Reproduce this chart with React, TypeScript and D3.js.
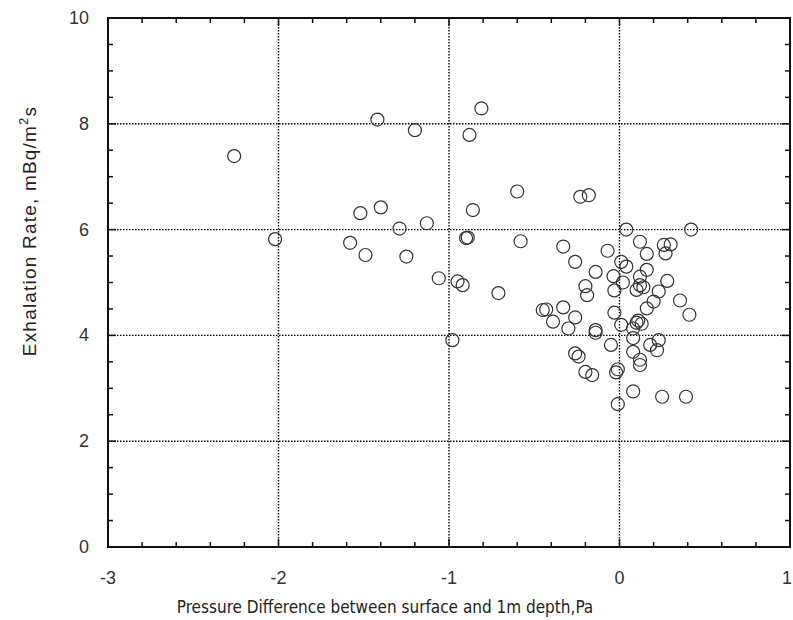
import React, { useRef, useEffect } from 'react';
import * as d3 from 'd3';

// pressure difference (Pa)
const pressure = [
  -2.26, -2.02, -1.42, -1.20, -0.81, -0.88, -0.60, -1.52, -1.40, -0.86,
  -1.29, -1.13, -1.58, -0.90, -0.89, -0.58, -1.49, -1.25, -1.06, -0.95,
  -0.92, -0.71, -0.45, -0.98, -0.23, -0.18, 0.04, 0.42, -0.33, -0.07,
  0.12, 0.26, 0.30, 0.16, 0.27, -0.26, 0.01, 0.04, -0.14, 0.16,
  0.12, -0.035, 0.02, 0.28, -0.20, -0.19, -0.03, 0.14, 0.10, 0.23,
  0.355, 0.41, 0.20, 0.16, -0.43, -0.33, -0.26, -0.39, -0.30, -0.03,
  0.01, 0.10, 0.13, 0.08, -0.14, -0.14, 0.08, 0.18, 0.23, 0.22,
  -0.05, 0.08, -0.26, -0.24, 0.12, 0.12, -0.20, -0.16, -0.01, -0.02,
  0.08, 0.25, 0.39, -0.01, 0.11, 0.12,
];

// exhalation rate (mBq/m2s)
const exhalation = [
  7.39, 5.82, 8.08, 7.88, 8.29, 7.79, 6.72, 6.31, 6.42, 6.37,
  6.02, 6.12, 5.75, 5.84, 5.85, 5.78, 5.52, 5.49, 5.08, 5.02,
  4.95, 4.80, 4.48, 3.91, 6.62, 6.65, 6.00, 6.00, 5.68, 5.60,
  5.77, 5.71, 5.72, 5.54, 5.55, 5.39, 5.39, 5.30, 5.20, 5.24,
  5.11, 5.12, 5.00, 5.03, 4.93, 4.76, 4.85, 4.91, 4.86, 4.83,
  4.66, 4.39, 4.64, 4.51, 4.49, 4.53, 4.34, 4.26, 4.13, 4.43,
  4.20, 4.24, 4.22, 4.13, 4.10, 4.05, 3.95, 3.82, 3.91, 3.72,
  3.82, 3.69, 3.66, 3.60, 3.54, 3.44, 3.31, 3.25, 3.36, 3.30,
  2.94, 2.84, 2.84, 2.70, 4.28, 4.95,
];

const xMajor = [-3, -2, -1, 0, 1];
const yMajor = [0, 2, 4, 6, 8, 10];
const xGrid = [-2, -1, 0];
const yGrid = [2, 4, 6, 8];

export default function App() {
  const svgRef = useRef(null);

  useEffect(() => {
    const W = 793, H = 620;
    const left = 108, right = 790, top = 18, bottom = 547;

    const svg = d3.select(svgRef.current).attr('width', W).attr('height', H);
    svg.selectAll('*').remove();

    const x = d3.scaleLinear().domain([-3, 1]).range([left, right]);
    const y = d3.scaleLinear().domain([0, 10]).range([bottom, top]);

    svg.append('rect').attr('width', W).attr('height', H).attr('fill', '#fff');

    // dotted grid at major ticks
    svg.selectAll('.gx').data(xGrid).enter().append('line')
      .attr('x1', d => x(d)).attr('x2', d => x(d))
      .attr('y1', top).attr('y2', bottom)
      .attr('stroke', '#000').attr('stroke-width', 1.4).attr('stroke-dasharray', '1.5,1.5');
    svg.selectAll('.gy').data(yGrid).enter().append('line')
      .attr('x1', left).attr('x2', right)
      .attr('y1', d => y(d)).attr('y2', d => y(d))
      .attr('stroke', '#000').attr('stroke-width', 1.4).attr('stroke-dasharray', '1.5,1.5');

    // inward ticks on all four sides
    const xMinor = d3.range(-3, 1.0001, 0.2).map(v => +v.toFixed(1));
    const yMinor = d3.range(0, 10.0001, 0.5);
    const tickG = svg.append('g').attr('stroke', '#111').attr('stroke-width', 1.5);
    xMinor.forEach(v => {
      const len = Math.abs(v - Math.round(v)) < 1e-6 ? 8 : 5;
      tickG.append('line').attr('x1', x(v)).attr('x2', x(v)).attr('y1', bottom).attr('y2', bottom - len);
      tickG.append('line').attr('x1', x(v)).attr('x2', x(v)).attr('y1', top).attr('y2', top + len);
    });
    yMinor.forEach(v => {
      const len = v % 2 === 0 ? 8 : 5;
      tickG.append('line').attr('x1', left).attr('x2', left + len).attr('y1', y(v)).attr('y2', y(v));
      tickG.append('line').attr('x1', right).attr('x2', right - len).attr('y1', y(v)).attr('y2', y(v));
    });

    // frame
    svg.append('rect')
      .attr('x', left).attr('y', top)
      .attr('width', right - left).attr('height', bottom - top)
      .attr('fill', 'none').attr('stroke', '#111').attr('stroke-width', 2);

    // points
    svg.selectAll('.pt').data(pressure).enter().append('circle')
      .attr('cx', d => x(d))
      .attr('cy', (d, i) => y(exhalation[i]))
      .attr('r', 6.5)
      .attr('fill', 'none')
      .attr('stroke', '#333')
      .attr('stroke-width', 1.2);

    // tick labels (the last one sits at the page edge, so keep it inside)
    const font = 'Liberation Sans, Arial, sans-serif';
    svg.selectAll('.xl').data(xMajor).enter().append('text')
      .attr('x', d => Math.min(x(d), W - 6)).attr('y', 584)
      .attr('text-anchor', 'middle')
      .attr('font-family', font).attr('font-size', 18).attr('fill', '#333')
      .text(d => d);
    svg.selectAll('.yl').data(yMajor).enter().append('text')
      .attr('x', 89).attr('y', d => y(d) + 6)
      .attr('text-anchor', 'end')
      .attr('font-family', font).attr('font-size', 18).attr('fill', '#333')
      .text(d => d);

    // axis titles
    svg.append('text')
      .attr('x', 385).attr('y', 613)
      .attr('text-anchor', 'middle')
      .attr('font-family', 'DejaVu Sans Condensed, Liberation Sans Narrow, sans-serif')
      .attr('font-size', 17).attr('fill', '#222')
      .text('Pressure Difference between surface and 1m depth,Pa');

    const yt = svg.append('text')
      .attr('transform', 'translate(36,231) rotate(-90)')
      .attr('text-anchor', 'middle')
      .attr('font-family', font).attr('font-size', 19).attr('fill', '#222')
      .attr('letter-spacing', 1.2);
    yt.append('tspan').text('Exhalation Rate, mBq/m');
    yt.append('tspan').attr('font-size', 13).attr('dy', -8).text('2');
    yt.append('tspan').attr('dy', 8).text('s');

    return () => {
      d3.select(svgRef.current).selectAll('*').remove();
    };
  }, []);

  return <svg ref={svgRef} style={{ position: 'absolute', left: 0, top: 0 }}></svg>;
}
